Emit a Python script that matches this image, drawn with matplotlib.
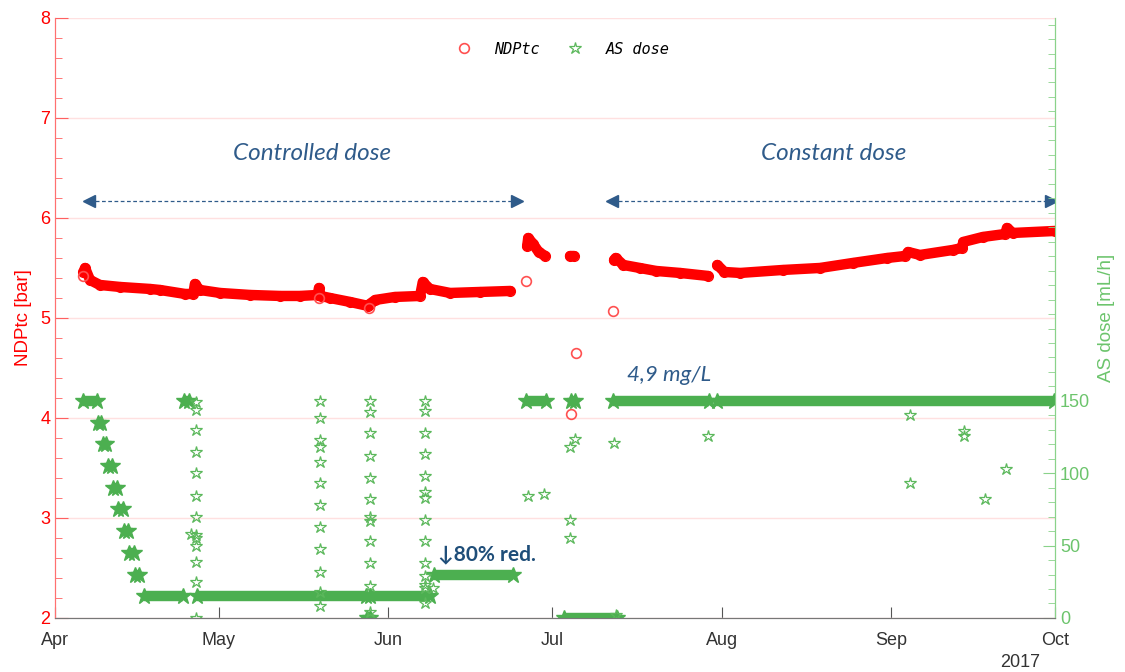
import numpy as np
import pandas as pd
import matplotlib
matplotlib.use("Agg")
import matplotlib.pyplot as plt
import matplotlib.dates as mdates
from matplotlib.ticker import MultipleLocator, FixedLocator

base = pd.Timestamp("2017-04-01")

# NDPtc [bar], dias desde 1-abr
ndp_seg1_day = [5.2, 5.5, 6.4, 8.2, 11.9, 17.4, 19.2, 23.8, 25.3, 25.6, 26.5, 30.2, 35.7, 41.2, 44.8,
                48.1, 48.3, 48.6, 50.3, 54.0, 57.3, 57.6, 58.6, 62.2, 66.8, 67.3, 68.6, 72.3, 77.8, 83.3]
ndp_seg1_val = [5.46, 5.50, 5.38, 5.33, 5.31, 5.29, 5.28, 5.24, 5.24, 5.34, 5.28, 5.25, 5.23, 5.22, 5.22,
                5.23, 5.30, 5.22, 5.20, 5.16, 5.12, 5.14, 5.18, 5.21, 5.22, 5.36, 5.29, 5.25, 5.26, 5.27]
ndp_seg2_day = [86.4, 86.6, 87.5, 88.5, 89.7]
ndp_seg2_val = [5.72, 5.80, 5.74, 5.66, 5.62]
ndp_seg3_day = [94.3, 94.9]
ndp_seg3_val = [5.62, 5.62]
ndp_seg4_day = [102.3, 102.6, 104.0, 107.0, 110.0, 114.4, 119.5]
ndp_seg4_val = [5.58, 5.60, 5.53, 5.50, 5.47, 5.45, 5.42]
ndp_seg5_day = [121.2, 122.5, 125.4, 133.2, 140.0, 146.0, 152.3, 155.6, 156.1, 158.3, 164.3, 166.0,
                166.2, 169.8, 173.9, 174.2, 175.3, 183.0]
ndp_seg5_val = [5.53, 5.46, 5.45, 5.48, 5.50, 5.55, 5.60, 5.62, 5.66, 5.63, 5.68, 5.70,
                5.76, 5.81, 5.84, 5.90, 5.85, 5.87]
ndp_out_day = [5.1, 48.4, 57.4, 86.2, 94.4, 95.4, 102.2]
ndp_out_val = [5.42, 5.20, 5.10, 5.37, 4.04, 4.65, 5.07]

# AS dose [mL/h]: tramos constantes (inicio, fin, valor)
dose_start = [5.2, 7.8, 8.7, 9.7, 10.6, 11.6, 12.6, 13.6, 14.7, 16.2, 23.6, 25.9, 57.1, 57.7, 69.4, 86.2, 93.2, 94.5, 102.2, 121.2]
dose_end   = [7.6, 8.4, 9.3, 10.4, 11.4, 12.4, 13.4, 14.4, 15.4, 23.4, 24.5, 56.9, 57.6, 68.6, 83.9, 89.9, 102.8, 95.1, 119.6, 182.8]
dose_val   = [150, 135, 120, 105, 90, 75, 60, 45, 30, 15, 150, 15, 0, 15, 30, 150, 0, 150, 150, 150]

# AS dose: lecturas aisladas
dose_pt_day = [25.8] * 13 + [24.9] + [48.5] * 12 + [57.7] * 12 + [67.7] * 14 + [69.2] + \
              [86.6, 89.4, 94.3, 95.1, 94.2, 94.2, 102.3, 102.6, 119.5, 156.4, 156.4, 166.3, 166.3, 170.2, 174.1]
dose_pt_val = [149, 144, 130, 115, 100, 84, 70, 57, 55, 50, 39, 25, 0] + [58] + \
              [150, 138, 123, 118, 108, 93, 78, 63, 48, 32, 18, 8] + \
              [150, 142, 128, 112, 97, 82, 70, 67, 53, 38, 22, 4] + \
              [150, 143, 128, 113, 98, 87, 83, 68, 53, 38, 29, 23, 21, 10] + [21] + \
              [84, 86, 118, 124, 68, 55, 121, 2, 126, 140, 93, 129, 126, 82, 103]

def d(days):
    return base + pd.to_timedelta(np.asarray(days, dtype=float), unit="D")

red = "#FF0000"
green = "#4CAF50"
green_ax = "#8AD28A"
navy = "#2F5B8A"

fig = plt.figure(figsize=(11.25, 6.72), dpi=100)
ax = fig.add_axes([0.0489, 0.0804, 0.8889, 0.8929])
ax2 = ax.twinx()

# NDPtc
for xs, ys in [(ndp_seg1_day, ndp_seg1_val), (ndp_seg2_day, ndp_seg2_val), (ndp_seg3_day, ndp_seg3_val),
               (ndp_seg4_day, ndp_seg4_val), (ndp_seg5_day, ndp_seg5_val)]:
    ax.plot(d(xs), ys, color=red, lw=7.5, solid_capstyle="round", solid_joinstyle="round", zorder=3)
    ax.plot(d(xs), ys, 'o', mfc='none', mec=red, ms=7, mew=1, zorder=3)
ax.plot(d(ndp_out_day), ndp_out_val, 'o', mfc='none', mec="#FF5050", ms=7, mew=1.2, zorder=3)

# AS dose
for s, e, v in zip(dose_start, dose_end, dose_val):
    ax2.plot(d([s, e]), [v, v], color=green, lw=7.5, solid_capstyle="butt", zorder=2)
    ax2.plot(d([s, e]), [v, v], '*', color=green, ms=12, zorder=2)
ax2.plot(d(dose_pt_day), dose_pt_val, '*', mfc='none', mec="#5CB85C", ms=9, mew=0.9, zorder=2)

# legend
h1, = ax.plot([], [], 'o', mfc='none', mec="#FF5050", ms=7, mew=1.2, label="NDPtc")
h2, = ax.plot([], [], '*', mfc='none', mec="#5CB85C", ms=9, mew=0.9, label="AS dose")
ax.legend(handles=[h1, h2], loc="center", bbox_to_anchor=(0.508, 0.948), ncol=2, frameon=False,
          prop={"family": "DejaVu Sans Mono", "style": "italic", "size": 11},
          handlelength=1.0, columnspacing=1.8, handletextpad=1.5)

# anotaciones
ax.plot(d([6.3, 84.5]), [6.17, 6.17], ls=(0, (3, 2)), lw=0.9, color=navy)
ax.plot(d([6.3]), [6.17], '<', color=navy, ms=9)
ax.plot(d([84.5]), [6.17], '>', color=navy, ms=9)
ax.plot(d([102.0, 182.3]), [6.17, 6.17], ls=(0, (3, 2)), lw=0.9, color=navy)
ax.plot(d([102.0]), [6.17], '<', color=navy, ms=9)
ax.plot(d([182.3]), [6.17], '>', color=navy, ms=9)
ax.text(d([47.0])[0], 6.64, "Controlled dose", ha="center", va="center", color=navy,
        fontsize=17.5, style="italic", family="Lato")
ax.text(d([142.5])[0], 6.64, "Constant dose", ha="center", va="center", color=navy,
        fontsize=17.5, style="italic", family="Lato")
ax.text(d([70.0])[0], 2.64, "↓80% red.", ha="left", va="center", color="#1F4E79",
        fontsize=15, weight="bold", family=["Lato", "DejaVu Sans"])
ax.text(d([104.6])[0], 4.43, "4,9 mg/L", ha="left", va="center", color=navy,
        fontsize=16, style="italic", family="Lato")

# ejes
ax.set_xlim(d([0])[0], d([183])[0])
ax.set_ylim(2, 8)
ax2.set_ylim(0, 414.6)
ax.xaxis.set_major_locator(mdates.MonthLocator())
ax.xaxis.set_major_formatter(mdates.DateFormatter("%b"))
ax.yaxis.set_major_locator(MultipleLocator(1))
ax.yaxis.set_minor_locator(MultipleLocator(0.2))
ax2.yaxis.set_major_locator(FixedLocator([0, 50, 100, 150]))
ax2.yaxis.set_minor_locator(MultipleLocator(10))
ax.grid(axis="y", color="#FFE0E0", lw=1)
ax.set_axisbelow(True)

ax.tick_params(axis="y", which="major", direction="in", length=9, color="#FF6060", labelcolor=red,
               labelsize=13)
ax.tick_params(axis="y", which="minor", direction="in", length=5, color="#FF6060")
ax.tick_params(axis="x", which="major", direction="in", length=8, color="#555555", labelcolor="#333333",
               labelsize=13, pad=10)
ax2.tick_params(axis="y", which="major", direction="in", length=9, color=green_ax, labelcolor="#6CC46C",
                labelsize=13)
ax2.tick_params(axis="y", which="minor", direction="in", length=5, color=green_ax)
for a in (ax, ax2):
    a.spines["top"].set_visible(False)
    a.spines["left"].set_color("#FF7070")
    a.spines["right"].set_color(green_ax)
    a.spines["bottom"].set_color("#777777")
for lab in ax.get_xticklabels() + ax.get_yticklabels() + ax2.get_yticklabels():
    lab.set_family("Liberation Sans")

ax.set_ylabel("NDPtc [bar]", color=red, fontsize=13.5, family="Liberation Sans", labelpad=6)
ax2.set_ylabel("AS dose [mL/h]", color="#6CC46C", fontsize=13.5, family="Liberation Sans", labelpad=6)
ax.text(0.965, -0.075, "2017", transform=ax.transAxes, ha="center", va="center", fontsize=13,
        color="#333333", family="Liberation Sans")

fig.savefig("out.png", dpi=100)
